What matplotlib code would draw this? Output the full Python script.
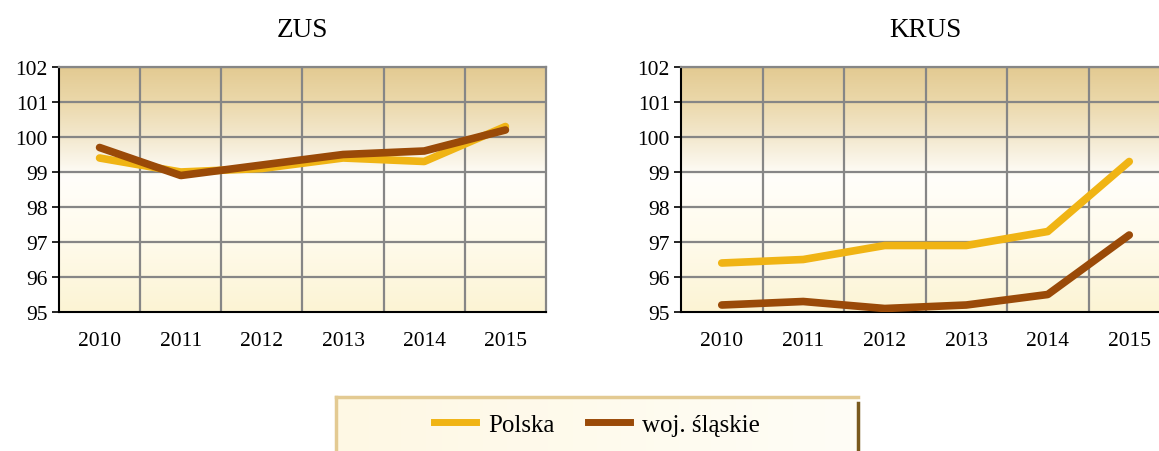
import numpy as np
import matplotlib.pyplot as plt
from matplotlib.colors import LinearSegmentedColormap
from matplotlib.lines import Line2D

plt.rcParams['font.family'] = ['Liberation Serif', 'DejaVu Serif']

years = ['2010', '2011', '2012', '2013', '2014', '2015']
zus_polska = [99.4, 99.0, 99.1, 99.4, 99.3, 100.3]
zus_slaskie = [99.7, 98.9, 99.2, 99.5, 99.6, 100.2]
krus_polska = [96.4, 96.5, 96.9, 96.9, 97.3, 99.3]
krus_slaskie = [95.2, 95.3, 95.1, 95.2, 95.5, 97.2]

C_POL = '#F0B414'
C_SL = '#9A4A08'

# background gradient, bottom -> top
bg = LinearSegmentedColormap.from_list('bg', [
    (0.0, '#FCF4D4'),
    (0.3, '#FFFBEC'),
    (0.55, '#FFFEFA'),
    (0.7, '#F4EAD2'),
    (0.86, '#EBD8AA'),
    (1.0, '#E3CA92'),
])

fig = plt.figure(figsize=(11.59, 4.52), dpi=100)

def panel(rect, title, pol, sl):
    ax = fig.add_axes(rect)
    n = len(years)
    x = np.arange(n)
    ax.set_xlim(-0.5, n - 0.5)
    ax.set_ylim(95, 102)
    grad = np.linspace(0, 1, 256).reshape(-1, 1)
    ax.imshow(grad, cmap=bg, origin='lower', aspect='auto',
              extent=(-0.5, n - 0.5, 95, 102), zorder=0)
    for v in range(96, 103):
        ax.axhline(v, color='#868686', lw=1.6, zorder=1)
    for v in np.arange(0.5, n - 0.5, 1):
        ax.axvline(v, color='#868686', lw=1.6, zorder=1)
    ax.plot(x, pol, color=C_POL, lw=5.5, solid_capstyle='round',
            solid_joinstyle='round', zorder=3)
    ax.plot(x, sl, color=C_SL, lw=5.5, solid_capstyle='round',
            solid_joinstyle='round', zorder=4)
    ax.set_xticks(x)
    ax.set_xticklabels(years)
    ax.set_yticks(range(95, 103))
    ax.tick_params(axis='x', length=0, pad=14, labelsize=15.5)
    ax.tick_params(axis='y', length=5, width=1.2, pad=3, labelsize=15.5)
    for s in ['top', 'right']:
        ax.spines[s].set_color('#868686')
        ax.spines[s].set_linewidth(1.6)
    for s in ['left', 'bottom']:
        ax.spines[s].set_color('black')
        ax.spines[s].set_linewidth(1.5)
    ax.set_title(title, fontsize=19.5, pad=22)
    return ax

panel([59 / 1159, 139 / 452, 487 / 1159, 245 / 452], 'ZUS', zus_polska, zus_slaskie)
panel([681 / 1159, 139 / 452, 489 / 1159, 245 / 452], 'KRUS', krus_polska, krus_slaskie)

# legend box
lax = fig.add_axes([336 / 1159, -8 / 452, 522 / 1159, 62 / 452])
lg = LinearSegmentedColormap.from_list('lg', ['#FEF8E4', '#FFFDF6'])
lax.imshow(np.linspace(0, 1, 64).reshape(1, -1), cmap=lg, aspect='auto',
           extent=(0, 1, 0, 1))
lax.set_xlim(0, 1)
lax.set_ylim(0, 1)
lax.set_xticks([])
lax.set_yticks([])
for s in lax.spines.values():
    s.set_color('#E3CA92')
    s.set_linewidth(2.5)
lax.spines['right'].set_visible(False)
fig.add_artist(Line2D([858 / 1159, 858 / 1159], [0, 48 / 452],
                      color='#7A5A1E', lw=2.5))
handles = [Line2D([], [], color=C_POL, lw=5),
           Line2D([], [], color=C_SL, lw=5)]
lax.legend(handles, ['Polska', 'woj. śląskie'], loc='center',
           bbox_to_anchor=(0.5, 0.55), ncol=2, frameon=False, fontsize=18,
           handlelength=1.7, handletextpad=0.5, columnspacing=1.3)

fig.savefig('out.png', dpi=100)
